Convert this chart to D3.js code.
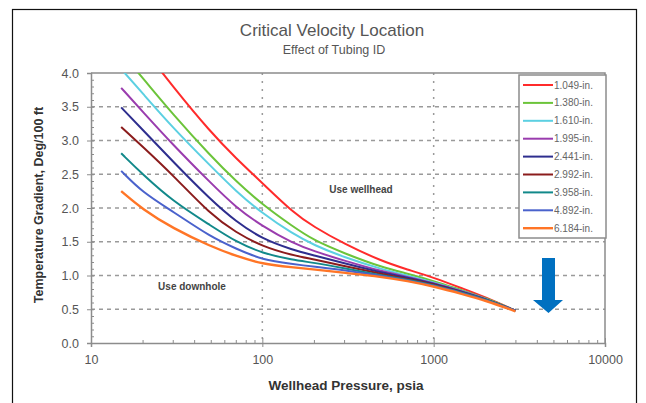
<!DOCTYPE html>
<html>
<head>
<meta charset="utf-8">
<script src="https://cdn.jsdelivr.net/npm/d3@7"></script>
<style>
    body { margin: 0; background: #fff; }
    svg { font-family: Arial, 'Liberation Sans', sans-serif; }
    .axis path, .axis line { stroke: #8c8c8c; }
    .axis text { fill: #555; font-size: 12.5px; }
</style>
</head>
<body>
<script>
// wellhead pressure, psia
const pressures = [15, 20, 30, 50, 70, 100, 150, 200, 300, 500, 700, 1000, 1500, 2000, 3000];

// temperature gradient, deg/100 ft, one list per tubing ID
const tubing1049 = [4.75, 4.38, 3.80, 3.12, 2.74, 2.37, 1.94, 1.72, 1.47, 1.21, 1.09, 0.97, 0.80, 0.68, 0.48];
const tubing1380 = [4.30, 3.93, 3.39, 2.77, 2.40, 2.05, 1.73, 1.52, 1.33, 1.12, 1.03, 0.92, 0.77, 0.67, 0.48];
const tubing1610 = [4.06, 3.70, 3.19, 2.62, 2.25, 1.92, 1.62, 1.45, 1.27, 1.09, 1.00, 0.90, 0.76, 0.66, 0.48];
const tubing1995 = [3.78, 3.43, 2.94, 2.37, 2.01, 1.73, 1.48, 1.36, 1.22, 1.06, 0.98, 0.89, 0.76, 0.66, 0.48];
const tubing2441 = [3.49, 3.16, 2.69, 2.12, 1.80, 1.54, 1.38, 1.30, 1.18, 1.04, 0.97, 0.88, 0.75, 0.65, 0.48];
const tubing2992 = [3.20, 2.91, 2.49, 1.90, 1.64, 1.43, 1.30, 1.24, 1.14, 1.02, 0.95, 0.87, 0.74, 0.65, 0.48];
const tubing3958 = [2.81, 2.50, 2.10, 1.74, 1.50, 1.33, 1.23, 1.19, 1.11, 1.00, 0.94, 0.86, 0.74, 0.65, 0.48];
const tubing4892 = [2.55, 2.23, 1.95, 1.57, 1.40, 1.23, 1.17, 1.13, 1.08, 0.99, 0.93, 0.85, 0.73, 0.64, 0.48];
const tubing6184 = [2.25, 1.98, 1.70, 1.43, 1.29, 1.17, 1.12, 1.09, 1.04, 0.98, 0.92, 0.84, 0.72, 0.63, 0.47];

const seriesNames = ['1.049-in.', '1.380-in.', '1.610-in.', '1.995-in.', '2.441-in.',
    '2.992-in.', '3.958-in.', '4.892-in.', '6.184-in.'];
const seriesValues = [tubing1049, tubing1380, tubing1610, tubing1995, tubing2441,
    tubing2992, tubing3958, tubing4892, tubing6184];
const seriesColors = ['#ff2b2b', '#6cc43a', '#5cd0e2', '#9a3cae', '#2e2e8e',
    '#8b1c1c', '#12898a', '#4a62cc', '#ff7526'];

const xTicks = [10, 100, 1000, 10000];
const yTicks = [0, 0.5, 1, 1.5, 2, 2.5, 3, 3.5, 4];

const W = 646, H = 403;
const plot = {left: 91, right: 605, top: 73, bottom: 343};

const svg = d3.select('body')
    .append('svg')
    .attr('width', W)
    .attr('height', H);

// outer frame
svg.append('rect')
    .attr('x', 12.5).attr('y', 9.5)
    .attr('width', 624).attr('height', 400)
    .attr('fill', 'none')
    .attr('stroke', '#111')
    .attr('stroke-width', 1.2);

const x = d3.scaleLog().domain([10, 10000]).range([plot.left, plot.right]);
const y = d3.scaleLinear().domain([0, 4]).range([plot.bottom, plot.top]);

// title
svg.append('text')
    .attr('x', 332).attr('y', 36)
    .attr('text-anchor', 'middle')
    .style('font-size', '17px')
    .style('fill', '#555')
    .text('Critical Velocity Location');

svg.append('text')
    .attr('x', 334).attr('y', 54)
    .attr('text-anchor', 'middle')
    .style('font-size', '12.5px')
    .style('fill', '#555')
    .text('Effect of Tubing ID');

// grid
svg.append('g')
    .selectAll('line')
    .data(yTicks.filter(v => v > 0 && v < 4))
    .enter()
    .append('line')
    .attr('x1', plot.left).attr('x2', plot.right)
    .attr('y1', d => y(d)).attr('y2', d => y(d))
    .attr('stroke', '#9a9a9a')
    .attr('stroke-width', 1.5)
    .attr('stroke-dasharray', '4,4');

svg.append('g')
    .selectAll('line')
    .data([100, 1000])
    .enter()
    .append('line')
    .attr('x1', d => x(d)).attr('x2', d => x(d))
    .attr('y1', plot.top).attr('y2', plot.bottom)
    .attr('stroke', '#9a9a9a')
    .attr('stroke-width', 1.5)
    .attr('stroke-dasharray', '2,6');

// frame top and right
svg.append('path')
    .attr('d', `M${plot.left},${plot.top}H${plot.right}V${plot.bottom}`)
    .attr('fill', 'none')
    .attr('stroke', '#8c8c8c')
    .attr('stroke-width', 1.5);

// x axis
const minorX = [];
[10, 100, 1000].forEach(d => { for (let k = 2; k < 10; k++) minorX.push(d * k); });

svg.append('g')
    .attr('class', 'axis')
    .attr('transform', `translate(0,${plot.bottom})`)
    .call(d3.axisBottom(x).tickValues(xTicks).tickSize(4).tickFormat(d3.format('d')))
    .call(g => g.select('.domain').attr('stroke-width', 1.5))
    .call(g => g.selectAll('text').attr('dy', '1.1em'));

svg.append('g')
    .attr('class', 'axis')
    .attr('transform', `translate(0,${plot.bottom})`)
    .call(d3.axisBottom(x).tickValues(xTicks).tickSize(-5).tickSizeOuter(0).tickFormat(''))
    .call(g => g.select('.domain').remove());

svg.append('g')
    .attr('class', 'axis')
    .attr('transform', `translate(0,${plot.bottom})`)
    .call(d3.axisBottom(x).tickValues(minorX).tickSize(-3).tickFormat(''))
    .call(g => g.select('.domain').remove());

// y axis
const minorY = d3.range(0, 40).map(i => i / 10);

svg.append('g')
    .attr('class', 'axis')
    .attr('transform', `translate(${plot.left},0)`)
    .call(d3.axisLeft(y).tickValues(yTicks).tickSize(4).tickFormat(d3.format('.1f')))
    .call(g => g.select('.domain').attr('stroke-width', 1.5))
    .call(g => g.selectAll('text').attr('x', -12));

svg.append('g')
    .attr('class', 'axis')
    .attr('transform', `translate(${plot.left},0)`)
    .call(d3.axisLeft(y).tickValues(minorY).tickSize(-3).tickFormat(''))
    .call(g => g.select('.domain').remove());

// axis titles
svg.append('text')
    .attr('transform', 'translate(43,205) rotate(-90)')
    .attr('text-anchor', 'middle')
    .style('font-size', '12.5px')
    .style('font-weight', 'bold')
    .style('fill', '#333')
    .text('Temperature Gradient, Deg/100 ft');

svg.append('text')
    .attr('x', 346).attr('y', 390)
    .attr('text-anchor', 'middle')
    .style('font-size', '13.5px')
    .style('font-weight', 'bold')
    .style('fill', '#333')
    .text('Wellhead Pressure, psia');

// curves
svg.append('defs').append('clipPath')
    .attr('id', 'plotclip')
    .append('rect')
    .attr('x', plot.left).attr('y', plot.top)
    .attr('width', plot.right - plot.left)
    .attr('height', plot.bottom - plot.top);

const line = d3.line()
    .x(d => x(d[0]))
    .y(d => y(d[1]))
    .curve(d3.curveBasis);

svg.append('g')
    .attr('clip-path', 'url(#plotclip)')
    .selectAll('path')
    .data(seriesValues)
    .enter()
    .append('path')
    .attr('d', vals => line(vals.map((v, i) => [pressures[i], v])))
    .attr('fill', 'none')
    .attr('stroke', (d, i) => seriesColors[i])
    .attr('stroke-width', (d, i) => i === 8 ? 2.4 : 2);

// annotations
svg.append('text')
    .attr('x', 361).attr('y', 193)
    .attr('text-anchor', 'middle')
    .style('font-size', '10px')
    .style('font-weight', 'bold')
    .style('fill', '#444')
    .text('Use wellhead');

svg.append('text')
    .attr('x', 192).attr('y', 290)
    .attr('text-anchor', 'middle')
    .style('font-size', '10px')
    .style('font-weight', 'bold')
    .style('fill', '#444')
    .text('Use downhole');

// legend
const legend = svg.append('g');

legend.append('rect')
    .attr('x', 519).attr('y', 75)
    .attr('width', 87).attr('height', 163)
    .attr('fill', '#fff')
    .attr('stroke', '#8c8c8c')
    .attr('stroke-width', 1.5);

const item = legend.selectAll('.item')
    .data(seriesNames)
    .enter()
    .append('g')
    .attr('transform', (d, i) => `translate(523, ${85 + i * 17.9})`);

item.append('line')
    .attr('x1', 0).attr('x2', 30)
    .attr('stroke', (d, i) => seriesColors[i])
    .attr('stroke-width', (d, i) => i === 8 ? 2.4 : 2);

item.append('text')
    .attr('x', 31).attr('y', 3.5)
    .style('font-size', '10px')
    .style('fill', '#666')
    .text(d => d);

// blue arrow
svg.append('path')
    .attr('d', 'M542,258H555V300H563L548.5,313L533,300H542Z')
    .attr('fill', '#0070c0');
</script>
</body>
</html>
